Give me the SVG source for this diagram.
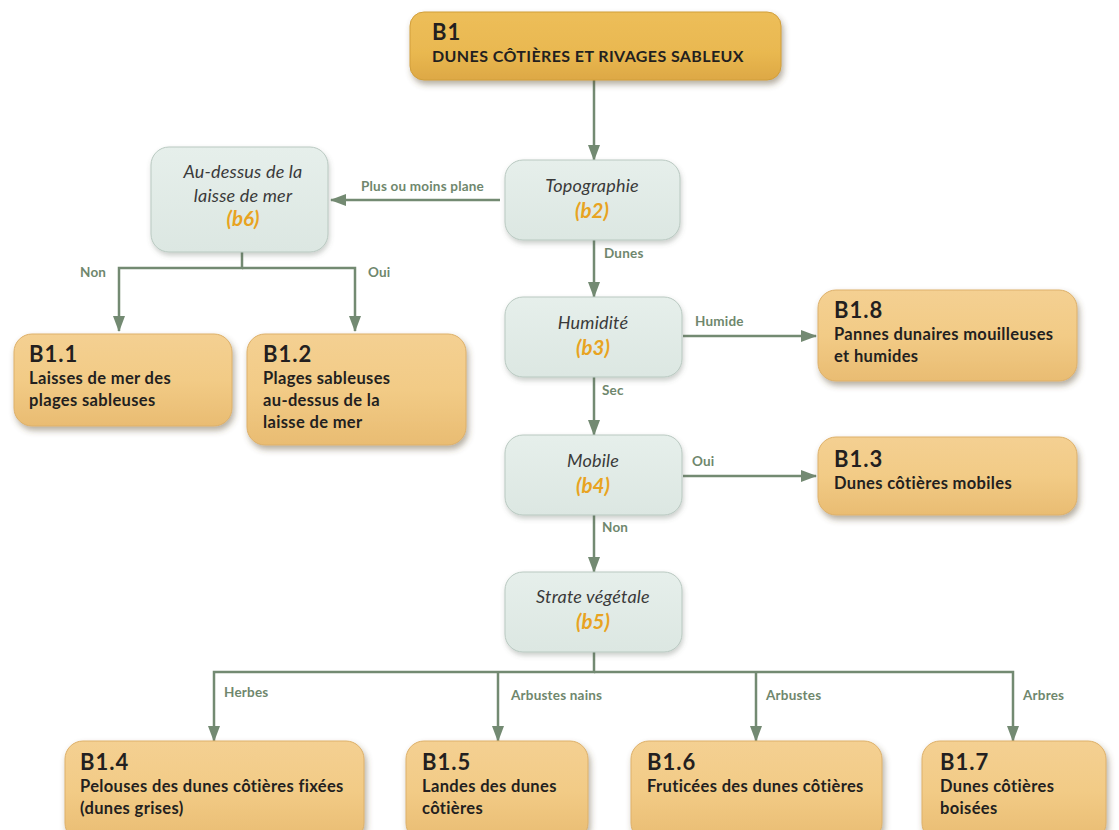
<svg xmlns="http://www.w3.org/2000/svg" width="1119" height="830" viewBox="0 0 1119 830">
<style>
.leaf{fill:url(#gold);stroke:#DDB06A;stroke-width:1;filter:url(#sh)}
.top{fill:url(#gold2);stroke:#D19E3A;stroke-width:1;filter:url(#sh)}
.dec{fill:url(#grey);stroke:#B9C9C1;stroke-width:1;filter:url(#sh2)}
.code{font-family:Lato,"Open Sans",sans-serif;font-weight:700;font-size:22px;letter-spacing:1px;fill:#231F20}
.name{font-family:Lato,"Open Sans",sans-serif;font-weight:700;font-size:16.5px;letter-spacing:0.35px;fill:#231F20}
.q{font-family:Lato,"Open Sans",sans-serif;font-style:italic;font-size:18px;letter-spacing:0.2px;fill:#3A3A3A;text-anchor:middle}
.b{font-family:Lato,"Open Sans",sans-serif;font-style:italic;font-weight:700;font-size:20.5px;fill:#E8A321;text-anchor:middle}
.lbl{font-family:Lato,"Open Sans",sans-serif;font-weight:700;font-size:13.5px;letter-spacing:0.2px;fill:#6F876D}
.c{fill:none;stroke:#738A72;stroke-width:2.5}
</style>
<defs>
<linearGradient id="gold" x1="0" y1="0" x2="0" y2="1">
<stop offset="0" stop-color="#F4D092"/><stop offset="0.5" stop-color="#F2CB86"/><stop offset="1" stop-color="#E9BC72"/>
</linearGradient>
<linearGradient id="gold2" x1="0" y1="0" x2="0" y2="1">
<stop offset="0" stop-color="#EDBE5A"/><stop offset="0.6" stop-color="#E9B850"/><stop offset="1" stop-color="#DDA845"/>
</linearGradient>
<linearGradient id="grey" x1="0" y1="0" x2="0" y2="1">
<stop offset="0" stop-color="#E6EFEB"/><stop offset="1" stop-color="#DCE7E2"/>
</linearGradient>
<filter id="sh" x="-10%" y="-10%" width="125%" height="135%">
<feDropShadow dx="2" dy="4" stdDeviation="3" flood-color="#5A4A2A" flood-opacity="0.45"/>
</filter>
<filter id="sh2" x="-10%" y="-10%" width="125%" height="135%">
<feDropShadow dx="1" dy="3" stdDeviation="2.5" flood-color="#556055" flood-opacity="0.3"/>
</filter>
<marker id="ar" viewBox="0 0 16 12" refX="15" refY="6" markerWidth="16" markerHeight="12" markerUnits="userSpaceOnUse" orient="auto">
<path d="M0,0 L16,6 L0,12 z" fill="#738A72"/>
</marker>
</defs>
<rect width="1119" height="830" fill="#FFFFFF"/>

<g id="connectors">
<path class="c" d="M594,80 V160" marker-end="url(#ar)"/>
<path class="c" d="M500,200 H331" marker-end="url(#ar)"/>
<text class="lbl" x="361" y="191">Plus ou moins plane</text>
<path class="c" d="M242,252 V268 H119 V331" marker-end="url(#ar)"/>
<path class="c" d="M242,268 H355 V331" marker-end="url(#ar)"/>
<text class="lbl" x="80" y="277">Non</text>
<text class="lbl" x="368" y="277">Oui</text>
<path class="c" d="M594,240 V297" marker-end="url(#ar)"/>
<text class="lbl" x="604" y="258">Dunes</text>
<path class="c" d="M683,336 H816" marker-end="url(#ar)"/>
<text class="lbl" x="695" y="326">Humide</text>
<path class="c" d="M594,377 V435" marker-end="url(#ar)"/>
<text class="lbl" x="602" y="395">Sec</text>
<path class="c" d="M683,476 H816" marker-end="url(#ar)"/>
<text class="lbl" x="692" y="466">Oui</text>
<path class="c" d="M594,515 V572" marker-end="url(#ar)"/>
<text class="lbl" x="602" y="532">Non</text>
<path class="c" d="M594,652 V672 H214 V741" marker-end="url(#ar)"/>
<path class="c" d="M594,672 H1013 V741" marker-end="url(#ar)"/>
<path class="c" d="M498,672 V741" marker-end="url(#ar)"/>
<path class="c" d="M756,672 V741" marker-end="url(#ar)"/>
<text class="lbl" x="224" y="697">Herbes</text>
<text class="lbl" x="511" y="700">Arbustes nains</text>
<text class="lbl" x="766" y="700">Arbustes</text>
<text class="lbl" x="1023" y="700">Arbres</text>
</g>

<g id="B1">
<rect class="top" x="410" y="12" width="371" height="68" rx="14"/>
<text class="code" x="432" y="40">B1</text>
<text class="name" x="432" y="62" style="font-size:16px;letter-spacing:0.4px">DUNES CÔTIÈRES ET RIVAGES SABLEUX</text>
</g>

<g id="b2">
<rect class="dec" x="505" y="160" width="175" height="80" rx="18"/>
<text class="q" x="592" y="192">Topographie</text>
<text class="b" x="592" y="218">(b2)</text>
</g>

<g id="b6">
<rect class="dec" x="151" y="147" width="177" height="105" rx="18"/>
<text class="q" x="243" y="178">Au-dessus de la</text>
<text class="q" x="243" y="202">laisse de mer</text>
<text class="b" x="243" y="226">(b6)</text>
</g>

<g id="B1.1">
<rect class="leaf" x="14" y="334" width="218" height="92" rx="18"/>
<text class="code" x="29" y="362">B1.1</text>
<text class="name" x="29" y="384">Laisses de mer des</text>
<text class="name" x="29" y="406">plages sableuses</text>
</g>

<g id="B1.2">
<rect class="leaf" x="247" y="334" width="219" height="111" rx="18"/>
<text class="code" x="263" y="362">B1.2</text>
<text class="name" x="263" y="384">Plages sableuses</text>
<text class="name" x="263" y="406">au-dessus de la</text>
<text class="name" x="263" y="428">laisse de mer</text>
</g>

<g id="b3">
<rect class="dec" x="505" y="297" width="177" height="80" rx="18"/>
<text class="q" x="593" y="329">Humidité</text>
<text class="b" x="593" y="355">(b3)</text>
</g>

<g id="B1.8">
<rect class="leaf" x="818" y="290" width="259" height="91" rx="18"/>
<text class="code" x="834" y="318">B1.8</text>
<text class="name" x="834" y="340">Pannes dunaires mouilleuses</text>
<text class="name" x="834" y="362">et humides</text>
</g>

<g id="b4">
<rect class="dec" x="505" y="435" width="177" height="80" rx="18"/>
<text class="q" x="593" y="467">Mobile</text>
<text class="b" x="593" y="493">(b4)</text>
</g>

<g id="B1.3">
<rect class="leaf" x="818" y="437" width="259" height="78" rx="18"/>
<text class="code" x="834" y="467">B1.3</text>
<text class="name" x="834" y="489">Dunes côtières mobiles</text>
</g>

<g id="b5">
<rect class="dec" x="505" y="572" width="177" height="80" rx="18"/>
<text class="q" x="593" y="603">Strate végétale</text>
<text class="b" x="593" y="629">(b5)</text>
</g>

<g id="B1.4">
<rect class="leaf" x="65" y="741" width="299" height="100" rx="18"/>
<text class="code" x="80" y="770">B1.4</text>
<text class="name" x="80" y="792">Pelouses des dunes côtières fixées</text>
<text class="name" x="80" y="814">(dunes grises)</text>
</g>

<g id="B1.5">
<rect class="leaf" x="406" y="741" width="182" height="100" rx="18"/>
<text class="code" x="422" y="770">B1.5</text>
<text class="name" x="422" y="792">Landes des dunes</text>
<text class="name" x="422" y="814">côtières</text>
</g>

<g id="B1.6">
<rect class="leaf" x="631" y="741" width="251" height="100" rx="18"/>
<text class="code" x="647" y="770">B1.6</text>
<text class="name" x="647" y="792">Fruticées des dunes côtières</text>
</g>

<g id="B1.7">
<rect class="leaf" x="922" y="741" width="184" height="100" rx="18"/>
<text class="code" x="940" y="770">B1.7</text>
<text class="name" x="940" y="792">Dunes côtières</text>
<text class="name" x="940" y="814">boisées</text>
</g>
</svg>
